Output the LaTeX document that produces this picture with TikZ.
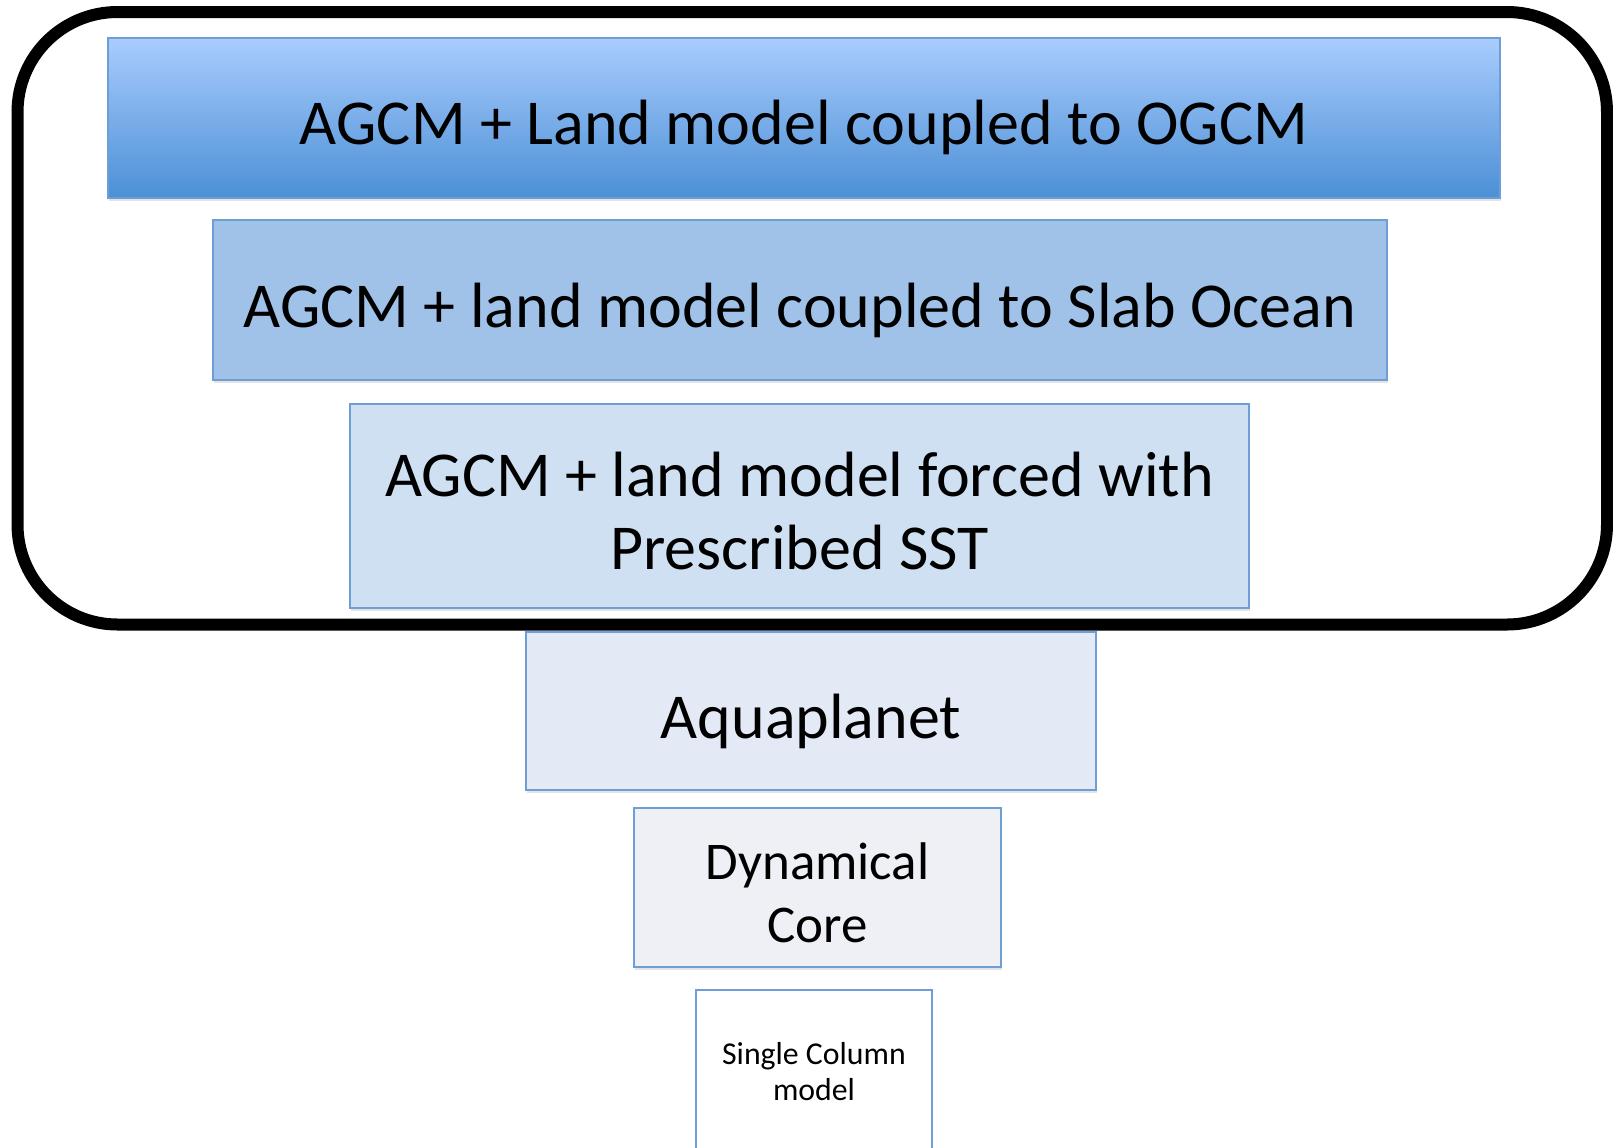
\documentclass[tikz,border=0pt]{standalone}
\usepackage{fontspec}
\setmainfont{Carlito}
\usepackage{xcolor}
\usepackage{tikz}
\usetikzlibrary{positioning,shadows}
\definecolor{edgeblue}{HTML}{6D9ED6}
\definecolor{topblue}{HTML}{A9CCFD}
\definecolor{botblue}{HTML}{4C90D6}
\definecolor{slabblue}{HTML}{A0C2E8}
\definecolor{sstblue}{HTML}{CFE0F3}
\definecolor{aquablue}{HTML}{E3EAF5}
\definecolor{coregrey}{HTML}{EFF0F5}
\tikzset{
  tier/.style ={rectangle, draw=edgeblue, line width=1pt, inner sep=0pt, align=center,
                text height=27pt, text depth=0pt, font=\fontsize{32pt}{36.5pt}\selectfont,
                drop shadow={shadow xshift=0.6pt, shadow yshift=-1.6pt, opacity=0.22}},
  hull/.style ={rectangle, draw=black, line width=6pt, rounded corners=50pt, inner sep=0pt},
  small/.style={font=\fontsize{15.9pt}{18pt}\selectfont, align=center},
}

\begin{document}
\begin{tikzpicture}[x=0.5pt, y=-0.5pt]
        \useasboundingbox (0,0) rectangle (1613,1147);
        \clip (0,0) rectangle (1613,1147);
        \node[tier, top color=topblue, bottom color=botblue, minimum width=696pt, minimum height=79.75pt]
              (ogcm) at (804,117.75) {AGCM + Land model coupled to OGCM};
        \node[tier, fill=slabblue, minimum width=587pt, minimum height=80pt]
              (slab) at (800,300) {AGCM + land model coupled to Slab Ocean};
        \node[tier, fill=sstblue, minimum width=449.5pt, minimum height=102pt, text height=63pt]
              (sst) at (799.5,506) {AGCM + land model forced with\\Prescribed SST};
        \node[hull, minimum width=794.75pt, minimum height=306.25pt] (coupled) at (812.25,318.25) {};
        \node[tier, fill=aquablue, minimum width=285pt, minimum height=79pt]
              (aqua) at (811,711) {Aquaplanet};
        \node[tier, fill=coregrey, minimum width=183.5pt, minimum height=79.5pt, text height=54.5pt,
              font=\fontsize{26.5pt}{31.5pt}\selectfont]
              (dyn) at (817.5,887.5) {Dynamical\\Core};
        \node[tier, fill=white, drop shadow={opacity=0}, minimum width=118pt, minimum height=85pt]
              (scm) at (814,1075) {};
        \node[small] (scmtext) at (814,1072) {Single Column\\model};
      \end{tikzpicture}
\end{document}
